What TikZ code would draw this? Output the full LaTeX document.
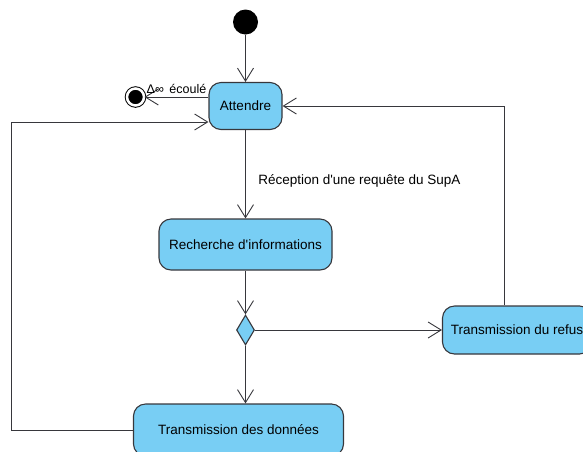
\documentclass[tikz,border=0pt]{standalone}
\usepackage{fontspec}
\setmainfont{Liberation Sans}
\usetikzlibrary{shapes,arrows.meta}

\definecolor{actblue}{RGB}{120,206,244}
\definecolor{linegray}{RGB}{55,55,60}

\begin{document}
\begin{tikzpicture}[node distance = 1.5cm, auto,
    font=\fontsize{13.5}{15}\selectfont]
  \tikzstyle{activity} = [rectangle, rounded corners=12pt, draw=linegray,
    fill=actblue, line width=1.1pt, text centered, inner xsep=7pt]
  \tikzstyle{decision} = [diamond, draw=linegray, fill=actblue, line width=1.1pt,
    minimum width=18pt, minimum height=30pt, inner sep=0pt]
  \tikzstyle{start} = [circle, fill=black, minimum size=25pt, inner sep=0pt]
  \tikzstyle{finish} = [circle, draw=black, fill=black, line width=1pt,
    double=white, double distance=2.5pt, minimum size=17pt, inner sep=0pt]
  \tikzstyle{line} = [draw=linegray, line width=0.9pt,
    -{Straight Barb[length=13pt, width=16pt, line width=0.9pt]}]

  \useasboundingbox (0,0) rectangle (583pt,-451pt);

  % Place nodes
  \node [start] at (245.5pt,-22pt) (init) {};
  \node [activity, below of=init, node distance=84pt,
    minimum width=73pt, minimum height=47pt] (att) {Attendre};
  \node [finish, left of=att, node distance=110pt, yshift=9pt] (fin) {};
  \node [activity, below of=att, node distance=138.5pt,
    minimum width=173pt, minimum height=51pt] (rech)
    {Recherche d\textquotesingle informations};
  \node [decision, below of=rech, node distance=85.5pt] (dec) {};
  \node [activity, right of=dec, node distance=271.5pt,
    minimum width=149pt, minimum height=48pt] (refus) {Transmission du refus};
  \node [activity, below of=dec, node distance=100pt, xshift=-7pt,
    minimum width=210pt, minimum height=52pt] (don) {Transmission des donn\'ees};

  % Draw edges
  \path [line] (init) -- (att);
  \path [line] (att.west |- fin) -- node [above, font=\fontsize{12.5}{14}\selectfont]
    {Δ∞ \,écoulé} (fin);
  \path [line] (att) -- node [right, pos=0.58, xshift=9pt]
    {Réception d\textquotesingle une requête du SupA} (rech);
  \path [line] (rech) -- (dec);
  \path [line] (dec) -- (refus);
  \path [line] (dec) -- (dec |- don.north);
  \path [line] ([xshift=-12.5pt]refus.north) |- (att.east);
  \path [line] (don.west) -- ++(-122pt,0) |- ([yshift=-16pt]att.west);

\end{tikzpicture}
\end{document}
